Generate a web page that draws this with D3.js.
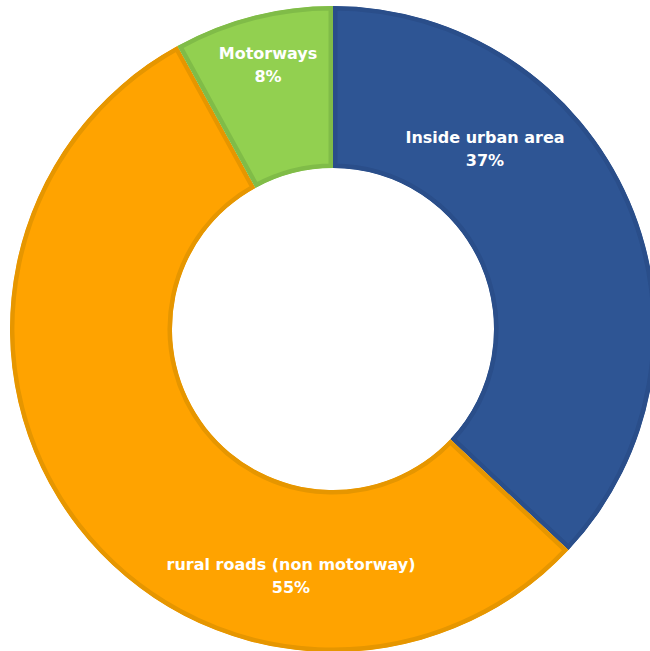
<!DOCTYPE html>
<html><head><meta charset="utf-8">
<script src="https://cdn.jsdelivr.net/npm/d3@7"></script>
<style>html,body{margin:0;padding:0;background:#fff;}svg{display:block;}</style>
</head><body>
<svg id="chart" width="650" height="651"></svg>
<script>
const categories = ["Inside urban area", "rural roads (non motorway)", "Motorways"];
const values = [37, 55, 8];
const labels = ["37%", "55%", "8%"];
const fills = ["#2E5594", "#FFA300", "#92D050"];
const borders = ["#2A4E8A", "#E69600", "#80BC48"];

const svg = d3.select("#chart");
const cx = 333, cy = 329, rOuter = 323, rInner = 161;
const g = svg.append("g").attr("transform", `translate(${cx},${cy})`);
const pie = d3.pie().sort(null).value(d => d)(values);
const arc = d3.arc().innerRadius(rInner).outerRadius(rOuter);

const defs = svg.append("defs");
pie.forEach((d, i) => {
  defs.append("clipPath").attr("id", "clip" + i)
    .append("path").attr("d", arc(d));
});
g.selectAll("path.slice").data(pie).join("path")
  .attr("class", "slice")
  .attr("d", arc)
  .attr("fill", (d, i) => fills[i])
  .attr("stroke", (d, i) => borders[i])
  .attr("stroke-width", 9)
  .attr("clip-path", (d, i) => `url(#clip${i})`);

const labelPos = [[485, 138], [291, 565], [268, 54]];
const tg = svg.append("g")
  .attr("font-family", "'DejaVu Sans', sans-serif")
  .attr("font-weight", "bold")
  .attr("font-size", 16)
  .attr("fill", "#fff")
  .attr("text-anchor", "middle");
categories.forEach((c, i) => {
  const t = tg.append("text").attr("x", labelPos[i][0]).attr("y", labelPos[i][1] + 5);
  t.append("tspan").attr("x", labelPos[i][0]).text(c);
  t.append("tspan").attr("x", labelPos[i][0]).attr("dy", 23).text(labels[i]);
});
</script>
</body></html>
